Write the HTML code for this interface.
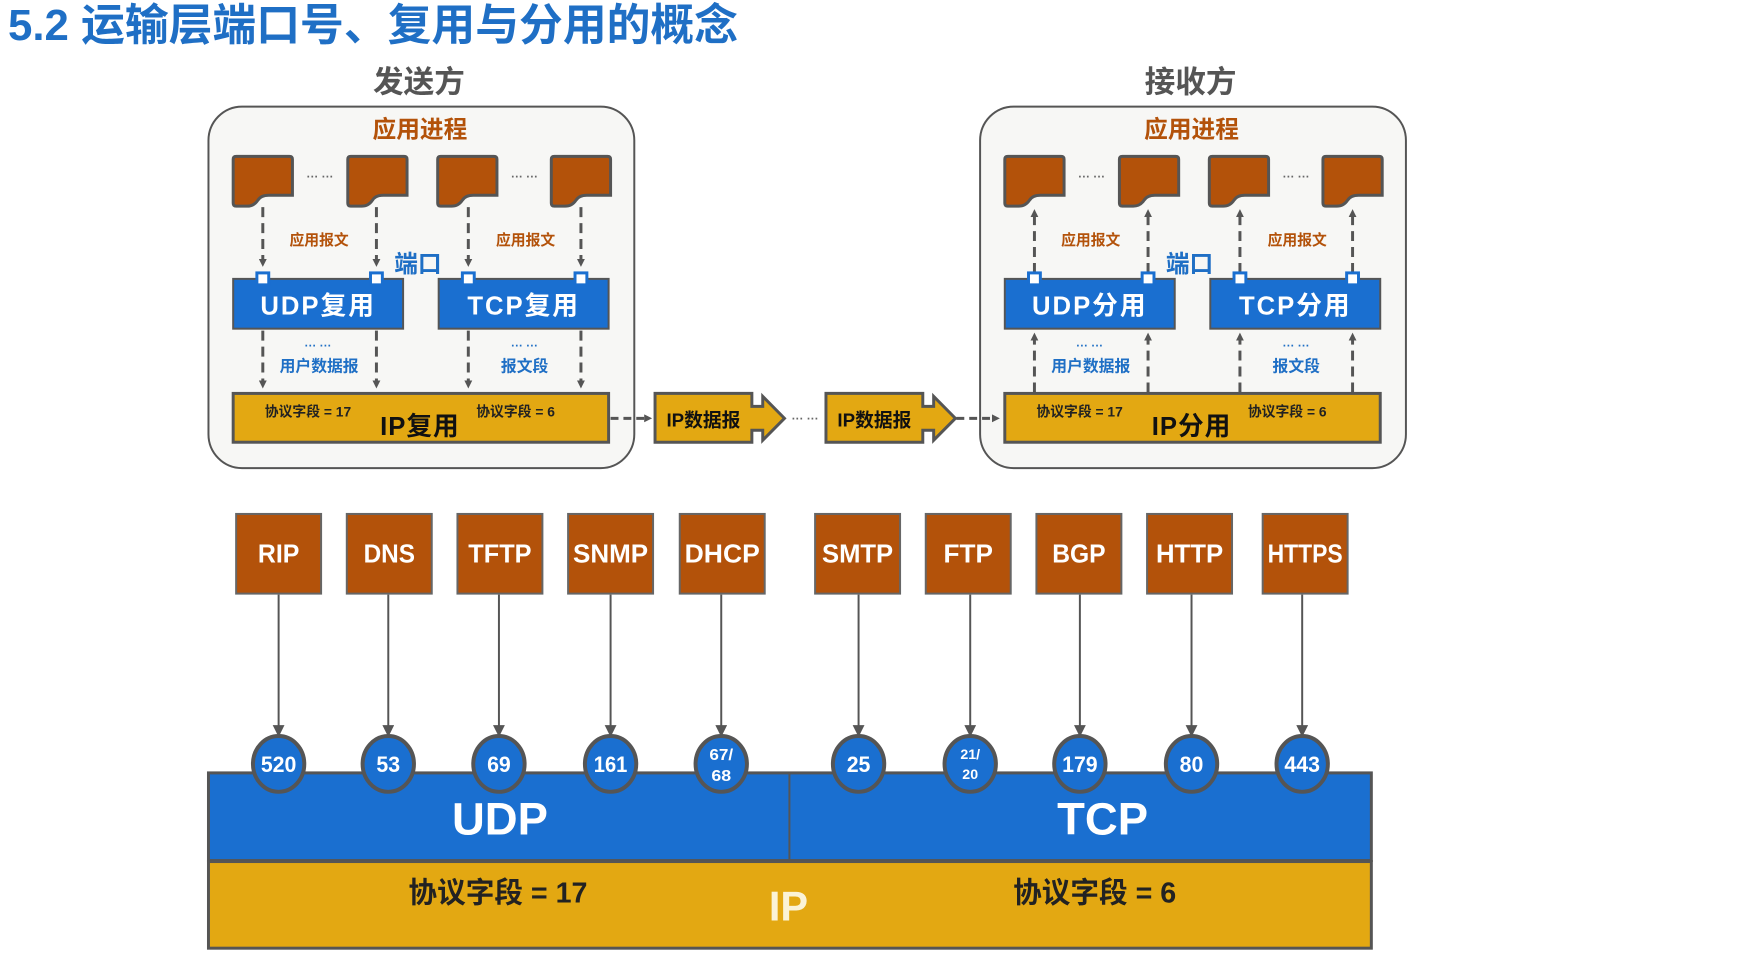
<!DOCTYPE html>
<html><head><meta charset="utf-8"><style>
html,body{margin:0;padding:0;background:#fff;width:1743px;height:960px;overflow:hidden}
svg{display:block}
text{font-family:"Liberation Sans","Noto Sans CJK SC",sans-serif;font-weight:bold}
</style></head><body>
<svg width="1743" height="960" viewBox="0 0 1743 960" xmlns="http://www.w3.org/2000/svg">
<defs>
<marker id="ah" markerWidth="8" markerHeight="8" refX="4" refY="4" orient="auto" markerUnits="userSpaceOnUse"><path d="M0,0 L8,4 L0,8 Z" fill="#555"/></marker>
<marker id="ah2" markerWidth="12" markerHeight="12" refX="10" refY="6" orient="auto" markerUnits="userSpaceOnUse"><path d="M0,0 L12,6 L0,12 Z" fill="#555"/></marker>
<g id="doc"><path d="M0,3 Q0,0 3,0 H57 Q60,0 60,3 V39 H36 Q28,39 25,44 Q21,50 14,50 H3 Q0,50 0,47 Z" fill="#b3520a" stroke="#555" stroke-width="3"/></g>
<g id="sq"><rect x="-6" y="-6" width="12" height="12" fill="#fff" stroke="#1a6fd0" stroke-width="3"/></g>
</defs>

<text x="8" y="40" font-size="44" fill="#1f6fc5" textLength="730" lengthAdjust="spacingAndGlyphs">5.2 运输层端口号、复用与分用的概念</text>

<g transform="scale(0.988,0.996)">
<text x="424" y="93" font-size="31" fill="#555" text-anchor="middle">发送方</text>
<text x="1205" y="93" font-size="31" fill="#555" text-anchor="middle">接收方</text>

<!-- sender -->
<g>
<rect x="211" y="107" width="431" height="363" rx="34" fill="#f7f7f5" stroke="#555" stroke-width="2"/>
<text x="425" y="138" font-size="24" fill="#b3520a" text-anchor="middle">应用进程</text>
<use href="#doc" x="236" y="157"/><use href="#doc" x="352" y="157"/><use href="#doc" x="443" y="157"/><use href="#doc" x="558" y="157"/>
<text x="324" y="181" font-size="12" fill="#666" text-anchor="middle">··· ···</text>
<text x="531" y="181" font-size="12" fill="#666" text-anchor="middle">··· ···</text>
<g stroke="#555" stroke-width="3" stroke-dasharray="10,6" fill="none">
<line x1="266" y1="208" x2="266" y2="264" marker-end="url(#ah)"/>
<line x1="381" y1="208" x2="381" y2="264" marker-end="url(#ah)"/>
<line x1="474" y1="208" x2="474" y2="264" marker-end="url(#ah)"/>
<line x1="588" y1="208" x2="588" y2="264" marker-end="url(#ah)"/>
<line x1="266" y1="332" x2="266" y2="386" marker-end="url(#ah)"/>
<line x1="381" y1="332" x2="381" y2="386" marker-end="url(#ah)"/>
<line x1="474" y1="332" x2="474" y2="386" marker-end="url(#ah)"/>
<line x1="588" y1="332" x2="588" y2="386" marker-end="url(#ah)"/>
</g>
<text x="323" y="246" font-size="15" fill="#b3520a" text-anchor="middle">应用报文</text>
<text x="532" y="246" font-size="15" fill="#b3520a" text-anchor="middle">应用报文</text>
<text x="399" y="273" font-size="24" fill="#1f6fc5">端口</text>
<rect x="236" y="280" width="172" height="50" fill="#1a6fd0" stroke="#555" stroke-width="2"/>
<rect x="444" y="280" width="172" height="50" fill="#1a6fd0" stroke="#555" stroke-width="2"/>
<use href="#sq" x="266" y="280"/><use href="#sq" x="381" y="280"/><use href="#sq" x="474" y="280"/><use href="#sq" x="588" y="280"/>
<text x="322" y="316" font-size="26" fill="#fff" text-anchor="middle" letter-spacing="2">UDP复用</text>
<text x="530" y="316" font-size="26" fill="#fff" text-anchor="middle" letter-spacing="2">TCP复用</text>
<text x="322" y="351" font-size="12" fill="#1f6fc5" text-anchor="middle">··· ···</text>
<text x="531" y="351" font-size="12" fill="#1f6fc5" text-anchor="middle">··· ···</text>
<text x="323" y="373" font-size="16" fill="#1f6fc5" text-anchor="middle">用户数据报</text>
<text x="531" y="373" font-size="16" fill="#1f6fc5" text-anchor="middle">报文段</text>
<rect x="236" y="395" width="380" height="49" fill="#e3a812" stroke="#555" stroke-width="3"/>
<text x="268" y="418" font-size="14" fill="#222">协议字段 = 17</text>
<text x="482" y="418" font-size="14" fill="#222">协议字段 = 6</text>
<text x="425" y="437" font-size="26" fill="#111" text-anchor="middle" letter-spacing="1">IP复用</text>
</g>

<!-- receiver -->
<g transform="translate(781,0)">
<rect x="211" y="107" width="431" height="363" rx="34" fill="#f7f7f5" stroke="#555" stroke-width="2"/>
<text x="425" y="138" font-size="24" fill="#b3520a" text-anchor="middle">应用进程</text>
<use href="#doc" x="236" y="157"/><use href="#doc" x="352" y="157"/><use href="#doc" x="443" y="157"/><use href="#doc" x="558" y="157"/>
<text x="324" y="181" font-size="12" fill="#666" text-anchor="middle">··· ···</text>
<text x="531" y="181" font-size="12" fill="#666" text-anchor="middle">··· ···</text>
<g stroke="#555" stroke-width="3" stroke-dasharray="10,6" fill="none">
<line x1="266" y1="274" x2="266" y2="214" marker-end="url(#ah)"/>
<line x1="381" y1="274" x2="381" y2="214" marker-end="url(#ah)"/>
<line x1="474" y1="274" x2="474" y2="214" marker-end="url(#ah)"/>
<line x1="588" y1="274" x2="588" y2="214" marker-end="url(#ah)"/>
<line x1="266" y1="394" x2="266" y2="338" marker-end="url(#ah)"/>
<line x1="381" y1="394" x2="381" y2="338" marker-end="url(#ah)"/>
<line x1="474" y1="394" x2="474" y2="338" marker-end="url(#ah)"/>
<line x1="588" y1="394" x2="588" y2="338" marker-end="url(#ah)"/>
</g>
<text x="323" y="246" font-size="15" fill="#b3520a" text-anchor="middle">应用报文</text>
<text x="532" y="246" font-size="15" fill="#b3520a" text-anchor="middle">应用报文</text>
<text x="399" y="273" font-size="24" fill="#1f6fc5">端口</text>
<rect x="236" y="280" width="172" height="50" fill="#1a6fd0" stroke="#555" stroke-width="2"/>
<rect x="444" y="280" width="172" height="50" fill="#1a6fd0" stroke="#555" stroke-width="2"/>
<use href="#sq" x="266" y="280"/><use href="#sq" x="381" y="280"/><use href="#sq" x="474" y="280"/><use href="#sq" x="588" y="280"/>
<text x="322" y="316" font-size="26" fill="#fff" text-anchor="middle" letter-spacing="2">UDP分用</text>
<text x="530" y="316" font-size="26" fill="#fff" text-anchor="middle" letter-spacing="2">TCP分用</text>
<text x="322" y="351" font-size="12" fill="#1f6fc5" text-anchor="middle">··· ···</text>
<text x="531" y="351" font-size="12" fill="#1f6fc5" text-anchor="middle">··· ···</text>
<text x="323" y="373" font-size="16" fill="#1f6fc5" text-anchor="middle">用户数据报</text>
<text x="531" y="373" font-size="16" fill="#1f6fc5" text-anchor="middle">报文段</text>
<rect x="236" y="395" width="380" height="49" fill="#e3a812" stroke="#555" stroke-width="3"/>
<text x="268" y="418" font-size="14" fill="#222">协议字段 = 17</text>
<text x="482" y="418" font-size="14" fill="#222">协议字段 = 6</text>
<text x="425" y="437" font-size="26" fill="#111" text-anchor="middle" letter-spacing="1">IP分用</text>
</g>

<!-- middle datagrams -->
<g stroke="#555" stroke-width="3" stroke-dasharray="8,5" fill="none">
<line x1="618" y1="420" x2="656" y2="420" marker-end="url(#ah)"/>
<line x1="968" y1="420" x2="1008" y2="420" marker-end="url(#ah)"/>
</g>
<path d="M663,395 H761 V408 H772 V398 L794,420 L772,442 V432 H761 V444 H663 Z" fill="#e3a812" stroke="#555" stroke-width="3"/>
<path d="M836,395 H934 V408 H945 V398 L967,420 L945,442 V432 H934 V444 H836 Z" fill="#e3a812" stroke="#555" stroke-width="3"/>
<text x="712" y="428" font-size="19" fill="#111" text-anchor="middle">IP数据报</text>
<text x="885" y="428" font-size="19" fill="#111" text-anchor="middle">IP数据报</text>
<text x="815" y="424" font-size="12" fill="#666" text-anchor="middle">··· ···</text>

<!-- bottom -->
<rect x="211" y="776" width="1177" height="88" fill="#1a6fd0" stroke="#555" stroke-width="3"/>
<line x1="799" y1="776" x2="799" y2="864" stroke="#555" stroke-width="2"/>
<rect x="211" y="865" width="1177" height="87" fill="#e3a812" stroke="#555" stroke-width="3"/>
<text x="506" y="838" font-size="46" fill="#fff" text-anchor="middle">UDP</text>
<text x="1116" y="838" font-size="46" fill="#fff" text-anchor="middle">TCP</text>
<text x="504" y="906" font-size="29" fill="#222" text-anchor="middle">协议字段 = 17</text>
<text x="1108" y="906" font-size="29" fill="#222" text-anchor="middle">协议字段 = 6</text>
<text x="798" y="924" font-size="42" fill="#fbf3d6" text-anchor="middle">IP</text>

<g font-size="26" fill="#fff" text-anchor="middle">
<g stroke="#555" stroke-width="2" fill="none">
<line x1="282" y1="597" x2="282" y2="738" marker-end="url(#ah2)"/>
<line x1="393" y1="597" x2="393" y2="738" marker-end="url(#ah2)"/>
<line x1="505" y1="597" x2="505" y2="738" marker-end="url(#ah2)"/>
<line x1="618" y1="597" x2="618" y2="738" marker-end="url(#ah2)"/>
<line x1="730" y1="597" x2="730" y2="738" marker-end="url(#ah2)"/>
<line x1="869" y1="597" x2="869" y2="738" marker-end="url(#ah2)"/>
<line x1="982" y1="597" x2="982" y2="738" marker-end="url(#ah2)"/>
<line x1="1093" y1="597" x2="1093" y2="738" marker-end="url(#ah2)"/>
<line x1="1206" y1="597" x2="1206" y2="738" marker-end="url(#ah2)"/>
<line x1="1318" y1="597" x2="1318" y2="738" marker-end="url(#ah2)"/>
</g>
<g fill="#b3520a" stroke="#666" stroke-width="2">
<rect x="239" y="516" width="86" height="80"/><rect x="351" y="516" width="86" height="80"/>
<rect x="463" y="516" width="86" height="80"/><rect x="575" y="516" width="86" height="80"/>
<rect x="688" y="516" width="86" height="80"/><rect x="825" y="516" width="86" height="80"/>
<rect x="937" y="516" width="86" height="80"/><rect x="1049" y="516" width="86" height="80"/>
<rect x="1161" y="516" width="86" height="80"/><rect x="1278" y="516" width="86" height="80"/>
</g>
<text x="282" y="565" textLength="42" lengthAdjust="spacingAndGlyphs">RIP</text>
<text x="394" y="565" textLength="52" lengthAdjust="spacingAndGlyphs">DNS</text>
<text x="506" y="565" textLength="64" lengthAdjust="spacingAndGlyphs">TFTP</text>
<text x="618" y="565" textLength="76" lengthAdjust="spacingAndGlyphs">SNMP</text>
<text x="731" y="565" textLength="76" lengthAdjust="spacingAndGlyphs">DHCP</text>
<text x="868" y="565" textLength="72" lengthAdjust="spacingAndGlyphs">SMTP</text>
<text x="980" y="565" textLength="50" lengthAdjust="spacingAndGlyphs">FTP</text>
<text x="1092" y="565" textLength="54" lengthAdjust="spacingAndGlyphs">BGP</text>
<text x="1204" y="565" textLength="68" lengthAdjust="spacingAndGlyphs">HTTP</text>
<text x="1321" y="565" textLength="76" lengthAdjust="spacingAndGlyphs">HTTPS</text>
<g fill="#1a6fd0" stroke="#555" stroke-width="4">
<ellipse cx="282" cy="767" rx="26" ry="28"/><ellipse cx="393" cy="767" rx="26" ry="28"/>
<ellipse cx="505" cy="767" rx="26" ry="28"/><ellipse cx="618" cy="767" rx="26" ry="28"/>
<ellipse cx="730" cy="767" rx="26" ry="28"/><ellipse cx="869" cy="767" rx="26" ry="28"/>
<ellipse cx="982" cy="767" rx="26" ry="28"/><ellipse cx="1093" cy="767" rx="26" ry="28"/>
<ellipse cx="1206" cy="767" rx="26" ry="28"/><ellipse cx="1318" cy="767" rx="26" ry="28"/>
</g>
<g font-size="22">
<text x="282" y="775" textLength="36" lengthAdjust="spacingAndGlyphs">520</text>
<text x="393" y="775" textLength="24" lengthAdjust="spacingAndGlyphs">53</text>
<text x="505" y="775" textLength="24" lengthAdjust="spacingAndGlyphs">69</text>
<text x="618" y="775" textLength="34" lengthAdjust="spacingAndGlyphs">161</text>
<text x="869" y="775" textLength="24" lengthAdjust="spacingAndGlyphs">25</text>
<text x="1093" y="775" textLength="36" lengthAdjust="spacingAndGlyphs">179</text>
<text x="1206" y="775" textLength="24" lengthAdjust="spacingAndGlyphs">80</text>
<text x="1318" y="775" textLength="36" lengthAdjust="spacingAndGlyphs">443</text>
</g>
<g font-size="16">
<text x="730" y="763" textLength="24" lengthAdjust="spacingAndGlyphs">67/</text>
<text x="730" y="784" textLength="20" lengthAdjust="spacingAndGlyphs">68</text>
</g>
<g font-size="14">
<text x="982" y="762" textLength="20" lengthAdjust="spacingAndGlyphs">21/</text>
<text x="982" y="782" textLength="16" lengthAdjust="spacingAndGlyphs">20</text>
</g>
</g>
</g>
</svg>
</body></html>
